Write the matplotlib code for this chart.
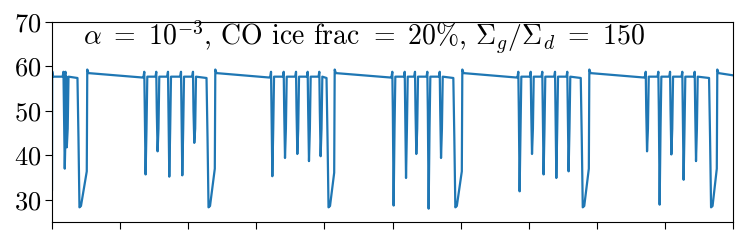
import numpy as np
import matplotlib
matplotlib.use("Agg")
import matplotlib.pyplot as plt

plt.rcParams["font.family"] = "serif"
plt.rcParams["font.serif"] = ["cmr10", "DejaVu Serif"]
plt.rcParams["mathtext.fontset"] = "cm"
plt.rcParams["axes.formatter.use_mathtext"] = True

# Values (x in tick-interval units, 0..10)
spike_t = [
    [0.183, 0.213],
    [1.370, 1.546, 1.718, 1.909, 2.085],
    [3.231, 3.417, 3.598, 3.769, 3.940],
    [5.012, 5.194, 5.345, 5.526, 5.708],
    [6.862, 7.044, 7.214, 7.401, 7.581],
    [8.733, 8.918, 9.090, 9.270, 9.452],
]
spike_min = [
    [37.0, 41.8],
    [35.7, 40.9, 35.2, 35.5, 42.8],
    [35.3, 39.4, 40.3, 38.7, 39.8],
    [28.7, 34.9, 40.3, 28.0, 39.4],
    [31.9, 40.3, 35.7, 34.9, 36.4],
    [40.9, 28.9, 40.2, 34.5, 38.7],
]
trough_start = [0.374, 2.269, 4.031, 5.893, 7.764, 9.648]
recover_t = [0.518, 2.398, 4.151, 6.025, 7.890, 9.769]
trough_climb = [36.4, 37.0, 36.1, 36.4, 37.0, 37.0]
start_value = 32.3
end_value = 58.0

plateau = 57.7
spike_peak = 58.8
floor = 28.3
recover_peak = 59.3
after_recover = 58.5

px = 1 / 68.1  # one pixel in x units

t, v = [0.0], [start_value]
t.append(0.2 * px); v.append(58.9)
t.append(1.0 * px); v.append(plateau)
for i in range(len(spike_t)):
    for s, m in zip(spike_t[i], spike_min[i]):
        t += [s - 1.8 * px, s - 1.0 * px, s - 0.5 * px, s + 0.3 * px, s + 1.2 * px, s + 2.0 * px]
        v += [plateau, spike_peak, 50.0, m, 46.0, plateau]
    d = trough_start[i]
    r = recover_t[i]
    t += [d, d + 1.0 * px, d + 2.0 * px, d + 3.5 * px, r - 0.5 * px, r, r + 1.2 * px]
    v += [57.4, 44.0, floor, 28.6, trough_climb[i], recover_peak, after_recover]
    if i + 1 < len(spike_t):
        t.append(spike_t[i + 1][0] - 2.5 * px); v.append(57.5)
t.append(10.0); v.append(end_value)

fig = plt.figure(figsize=(7.47, 2.43), dpi=100)
ax = fig.add_axes([0.0696, 0.0864, 0.9117, 0.8231])
ax.plot(t, v, color="#1f77b4", lw=1.6)
ax.set_xlim(0, 10)
ax.set_ylim(25, 70)
ax.set_xticks(np.arange(0, 11))
ax.set_xticklabels([])
ax.set_yticks([30, 40, 50, 60, 70])
ax.tick_params(labelsize=19, length=5, pad=2.5)
ax.text(0.045, 0.885,
        r"$\alpha\ =\ 10^{-3}$, CO ice frac $=\ 20\%$, $\Sigma_g/\Sigma_d\ =\ 150$",
        transform=ax.transAxes, fontsize=20, va="baseline")

fig.savefig("out.png", dpi=100)
